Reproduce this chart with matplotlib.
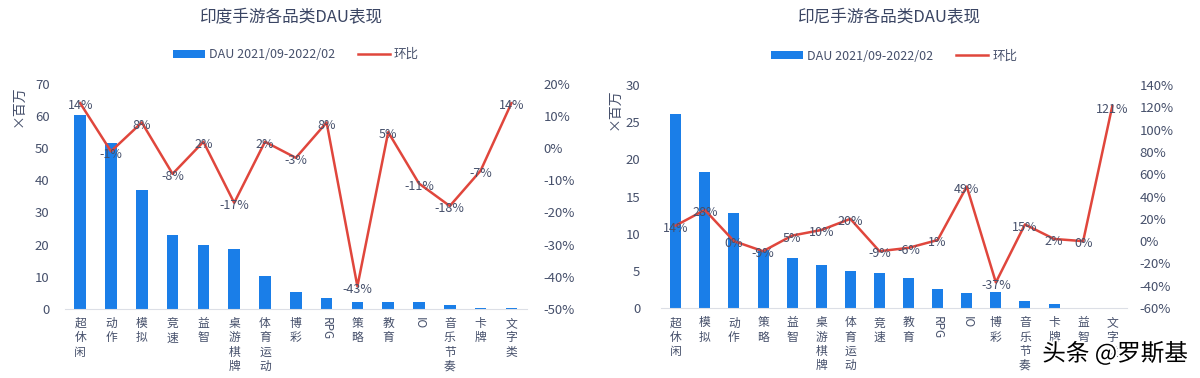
import matplotlib.pyplot as plt
import matplotlib.patheffects as pe
import numpy as np

plt.rcParams['font.family'] = ['Noto Sans CJK SC', 'DejaVu Sans']

# 印度
india_cats = ['超休闲', '动作', '模拟', '竞速', '益智', '桌游棋牌', '体育运动', '博彩',
              'RPG', '策略', '教育', 'IO', '音乐节奏', '卡牌', '文字类']
india_dau = [60.4, 51.6, 36.9, 23.0, 19.9, 18.7, 10.1, 5.1, 3.5, 2.1, 2.0, 2.0, 1.1, 0.4, 0.3]
india_mom = [14, -1, 8, -8, 2, -17, 2, -3, 8, -43, 5, -11, -18, -7, 14]

# 印尼
indo_cats = ['超休闲', '模拟', '动作', '策略', '益智', '桌游棋牌', '体育运动', '竞速',
             '教育', 'RPG', 'IO', '博彩', '音乐节奏', '卡牌', '益智', '文字类']
indo_dau = [26.1, 18.3, 12.8, 7.8, 6.8, 5.8, 5.0, 4.7, 4.1, 2.6, 2.0, 2.1, 1.0, 0.55, 0.05, 0.0]
indo_mom = [14, 28, 0, -9, 5, 10, 20, -9, -6, 1, 49, -37, 15, 2, 0, 121]

BAR = '#1a7ee8'
LINE = '#e0463c'
TXT = '#46506b'


def draw_panel(ax, cats, dau, mom, title, ylim, yticks, y2lim, y2ticks, lpad, rpad):
    x = np.arange(len(cats))
    bars = ax.bar(x, dau, width=0.38, color=BAR, zorder=2)
    ax.set_xlim(-0.5, len(cats) - 0.5)
    ax.set_ylim(*ylim)
    ax.set_yticks(yticks)
    ax.set_xticks(x)
    labels = []
    for c in cats:
        if c.isascii():
            labels.append(c)
        else:
            labels.append('\n'.join(c))
    ax.set_xticklabels(labels, fontsize=8.5, color=TXT, va='top', linespacing=1.12)
    for lab, c in zip(ax.get_xticklabels(), cats):
        if c.isascii():
            lab.set_rotation(-90)
    ax.tick_params(axis='both', length=0, colors=TXT)
    ax.tick_params(axis='y', labelsize=9.5, pad=lpad)
    ax.tick_params(axis='x', pad=6)
    for s in ['top', 'right', 'left']:
        ax.spines[s].set_visible(False)
    ax.spines['bottom'].set_color('#dcdfe6')

    ax2 = ax.twinx()
    line, = ax2.plot(x, mom, color=LINE, lw=1.8, zorder=3)
    ax2.set_ylim(*y2lim)
    ax2.set_yticks(y2ticks)
    ax2.set_yticklabels([f'{t}%' for t in y2ticks])
    ax2.tick_params(axis='y', length=0, colors=TXT, labelsize=9.5, pad=rpad)
    for s in ['top', 'right', 'left', 'bottom']:
        ax2.spines[s].set_visible(False)
    for xi, v in zip(x, mom):
        ax2.annotate(f'{v}%', (xi, v), xytext=(0, -2), textcoords='offset points',
                     ha='center', va='center', fontsize=9, color=TXT, zorder=4)

    ax.legend([bars, line], ['DAU 2021/09-2022/02', '环比'], loc='center',
              bbox_to_anchor=(0.5, 1.13), ncol=2, frameon=False, fontsize=9,
              handlelength=2.6, handleheight=0.6, columnspacing=1.8,
              labelcolor=TXT, handletextpad=0.3)
    ax.set_ylabel('×百万', fontsize=10, color=TXT)
    pos = ax.get_position()
    fig.text(pos.x0 + pos.width * 0.49, 0.952, title, ha='center', va='center',
             fontsize=12, color='#3a4563')
    return ax2


fig = plt.figure(figsize=(12, 3.78), dpi=100)
ax_l = fig.add_axes([0.054, 0.183, 0.385, 0.595])
ax_r = fig.add_axes([0.551, 0.185, 0.388, 0.59])

draw_panel(ax_l, india_cats, india_dau, india_mom, '印度手游各品类DAU表现',
           (0, 70), range(0, 71, 10), (-50, 20), list(range(-50, 21, 10)), 11, 12)
draw_panel(ax_r, indo_cats, indo_dau, indo_mom, '印尼手游各品类DAU表现',
           (0, 30), range(0, 31, 5), (-60, 140), list(range(-60, 141, 20)), 15, 9)

ax_l.yaxis.set_label_coords(-0.085, 0.9)
ax_r.yaxis.set_label_coords(-0.085, 0.89)

fig.text(0.99, 0.065, '头条 @罗斯基', ha='right', va='center', fontsize=17,
         color='black', path_effects=[pe.withStroke(linewidth=3, foreground='white')])

fig.savefig('out.png', dpi=100, facecolor='white')
